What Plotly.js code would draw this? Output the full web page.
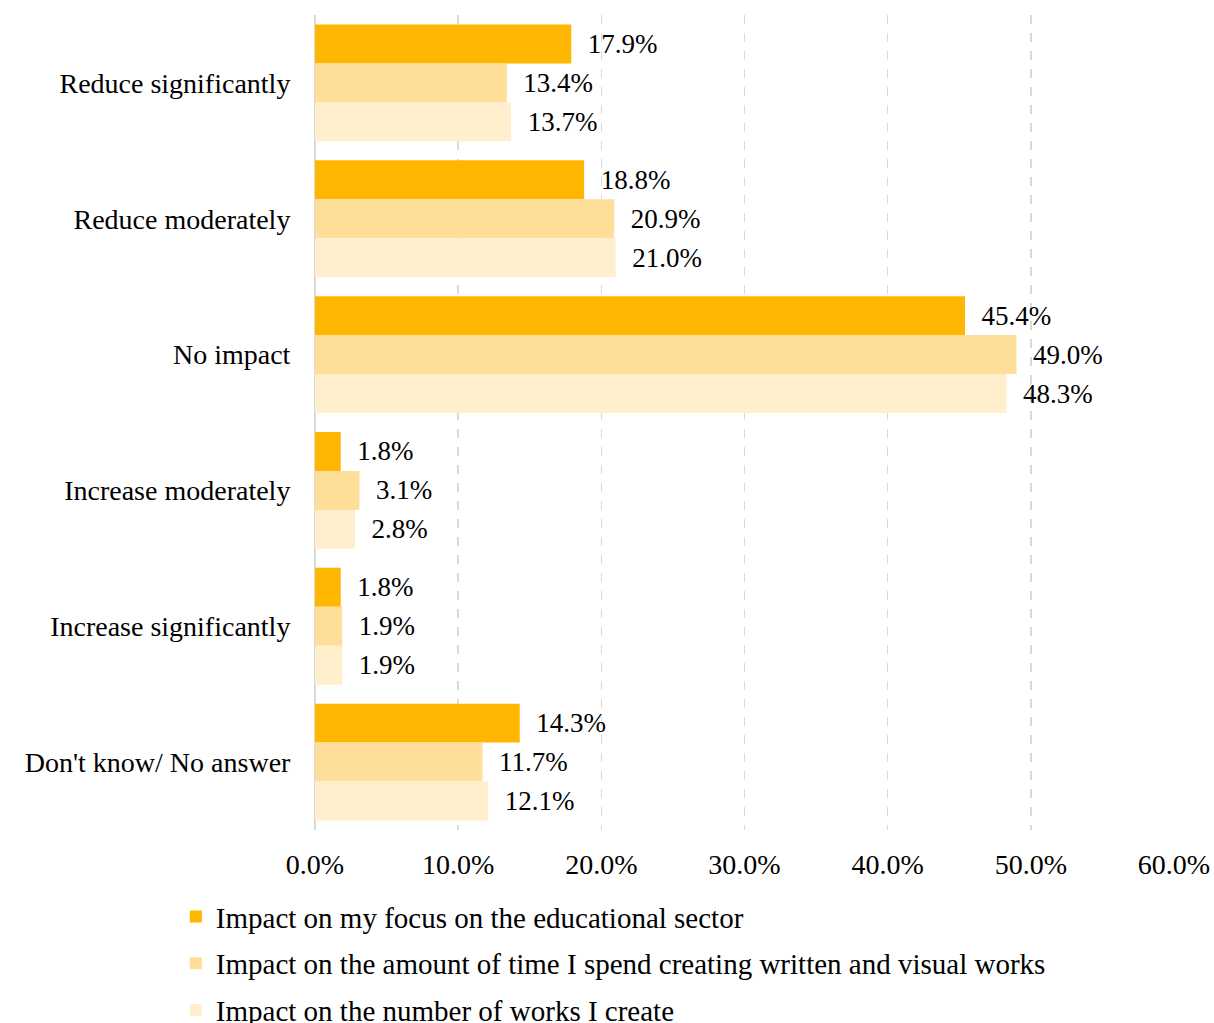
<!DOCTYPE html>
<html>
<head>
<meta charset="utf-8">
<script src="https://cdn.plot.ly/plotly-3.0.1.min.js"></script>
<style>html,body{margin:0;padding:0;background:#fff;}#chart{width:1214px;height:1023px;}</style>
</head>
<body>
<div id="chart"></div>
<script>
const categories = ["Reduce significantly", "Reduce moderately", "No impact", "Increase moderately", "Increase significantly", "Don't know/ No answer"];
const seriesNames = [
  "Impact on my focus on the educational sector",
  "Impact on the amount of time I spend creating written and visual works",
  "Impact on the number of works I create"
];
const focusValues = [17.9, 18.8, 45.4, 1.8, 1.8, 14.3];
const timeValues = [13.4, 20.9, 49.0, 3.1, 1.9, 11.7];
const worksValues = [13.7, 21.0, 48.3, 2.8, 1.9, 12.1];
const xTickValues = [0, 10, 20, 30, 40, 50, 60];
const xTickLabels = ["0.0%", "10.0%", "20.0%", "30.0%", "40.0%", "50.0%", "60.0%"];

const colors = ["#FFB600", "#FFDE99", "#FFEFCC"];
const FONT = "'Liberation Serif', 'Times New Roman', serif";
const allValues = [focusValues, timeValues, worksValues];

const traces = allValues.map((vals, i) => ({
  type: "bar",
  orientation: "h",
  name: seriesNames[i],
  y: categories,
  x: vals,
  marker: {color: colors[i]},
  text: vals.map(v => "\u00A0\u00A0" + v.toFixed(1) + "%"),
  textposition: "outside",
  cliponaxis: false,
  textfont: {family: FONT, size: 27, color: "#000"},
  legendgroup: "g" + i,
  hoverinfo: "x+y"
}));

const layout = {
  width: 1214,
  height: 1023,
  margin: {l: 315, r: 40, t: 15, b: 193, autoexpand: false},
  paper_bgcolor: "#fff",
  plot_bgcolor: "#fff",
  barmode: "group",
  bargap: 0.14,
  bargroupgap: 0,
  font: {family: FONT, color: "#000"},
  xaxis: {
    range: [0, 60],
    tickvals: xTickValues,
    ticktext: xTickLabels,
    showgrid: true,
    gridcolor: "#d9d9d9",
    gridwidth: 1.5,
    griddash: "dash",
    zeroline: true,
    zerolinecolor: "#d9d9d9",
    zerolinewidth: 2,
    ticks: "outside",
    ticklen: 9,
    tickcolor: "rgba(0,0,0,0)",
    tickfont: {family: FONT, size: 28, color: "#000"},
    showline: false,
    fixedrange: true
  },
  yaxis: {
    autorange: "reversed",
    ticks: "outside",
    ticklen: 18,
    tickcolor: "rgba(0,0,0,0)",
    tickfont: {family: FONT, size: 28, color: "#000"},
    showgrid: false,
    zeroline: false,
    showline: false,
    fixedrange: true
  },
  showlegend: true,
  legend: {
    orientation: "v",
    x: -0.162,
    xanchor: "left",
    y: -0.075,
    yanchor: "top",
    traceorder: "grouped",
    tracegroupgap: 6,
    font: {family: FONT, size: 29, color: "#000"},
    itemwidth: 30,
    bgcolor: "rgba(0,0,0,0)"
  }
};

Plotly.newPlot("chart", traces, layout, {displayModeBar: false, staticPlot: true});
</script>
</body>
</html>
